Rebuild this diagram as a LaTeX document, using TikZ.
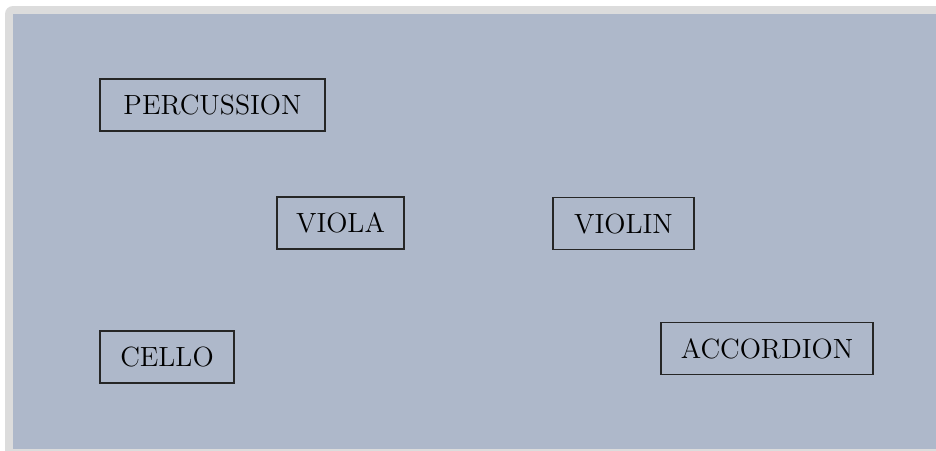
\documentclass[tikz,border=0pt]{standalone}
\usepackage{tikz}
\definecolor{panelblue}{RGB}{174,184,202}
\definecolor{framegray}{RGB}{220,220,220}
\tikzset{
  instrument/.style={draw=black!85, line width=0.55pt, fill=none,
    font=\fontsize{13.9}{16}\selectfont, inner xsep=9pt,
    minimum height=26pt, text height=9.6pt, text depth=0pt}
}
\begin{document}
\begin{tikzpicture}[x=0.5pt, y=-0.5pt]
  % canvas and frame
  \useasboundingbox (0,0) rectangle (936,450);
  \fill[white] (0,0) rectangle (936,450);
  \fill[framegray, rounded corners=4pt] (5,6) rectangle (960,470);
  \fill[panelblue] (13,14) rectangle (936,449);
  % instrument labels
  \node[instrument, minimum width=112.5pt] (percussion) at (212.5,105) {PERCUSSION};
  \node[instrument, minimum width=63.5pt]  (viola)      at (340.5,223) {VIOLA};
  \node[instrument, minimum width=70.5pt]  (violin)     at (623.5,223.5) {VIOLIN};
  \node[instrument, minimum width=67pt]    (cello)      at (167,357) {CELLO};
  \node[instrument, minimum width=106pt]   (accordion)  at (767,348.5) {ACCORDION};
\end{tikzpicture}
\end{document}
